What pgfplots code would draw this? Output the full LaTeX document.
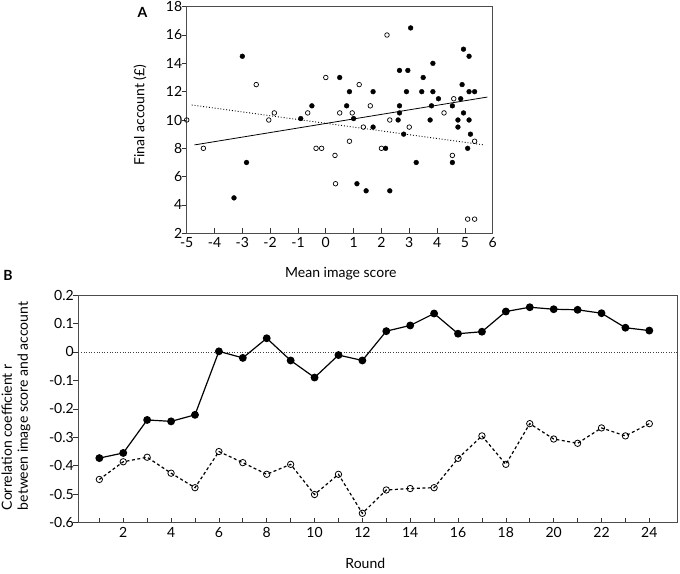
\documentclass[border=0pt]{standalone}
\usepackage{fontspec}
\setmainfont{Lato}
\usepackage{pgfplots}
\pgfplotsset{compat=1.18}
\pgfplotstableread{
x y
-3.0 14.5
-2.85 7.0
-3.3 4.5
-0.9 10.1
-0.5 11
0.5 13
0.85 12
0.75 11
1.0 10.1
1.7 12
1.7 9.5
1.12 5.5
1.45 5.0
2.15 8.0
3.05 16.5
2.3 5.0
2.65 13.5
2.95 13.5
2.9 12.0
2.65 11.0
2.65 10.5
2.6 10.0
2.8 9.0
3.25 7.0
3.5 13.0
3.45 12.0
3.85 14.0
3.85 12.0
4.05 11.5
3.8 11.0
3.75 10.0
4.85 11.5
4.55 11.0
4.9 12.5
4.95 15.0
5.15 14.5
5.15 12.0
5.35 12.0
4.95 10.5
4.75 10.0
4.75 9.5
5.15 10.0
5.2 9.0
5.1 8.0
4.55 7.0
}\filledA
\pgfplotstableread{
x y
-5.0 10.0
-4.4 8.0
-2.5 12.5
-2.05 10.0
-1.85 10.5
-0.65 10.5
-0.35 8.0
-0.15 8.0
0.0 13.0
0.33 7.5
0.35 5.5
0.5 10.5
0.85 8.5
0.95 10.5
1.2 12.5
1.35 9.5
1.6 11.0
2.0 8.0
2.2 16.0
2.3 10.0
3.0 9.5
4.25 10.5
4.6 11.5
5.35 8.5
4.55 7.5
5.1 3.0
5.35 3.0
}\openA
\pgfplotstableread{
r filled open
1 -0.373 -0.448
2 -0.355 -0.386
3 -0.239 -0.370
4 -0.244 -0.426
5 -0.221 -0.477
6 0.002 -0.350
7 -0.021 -0.389
8 0.048 -0.430
9 -0.030 -0.395
10 -0.090 -0.501
11 -0.011 -0.430
12 -0.030 -0.567
13 0.073 -0.485
14 0.093 -0.480
15 0.135 -0.477
16 0.064 -0.374
17 0.071 -0.295
18 0.142 -0.395
19 0.157 -0.252
20 0.150 -0.306
21 0.148 -0.321
22 0.136 -0.267
23 0.085 -0.295
24 0.075 -0.252
}\dataB
\pgfplotsset{
  mystyle/.style={
    scale only axis,
    anchor=south west,
    tick pos=left,
    tick align=inside,
    major tick length=5pt,
    axis line style={draw=black!70, line width=0.9pt},
    every tick/.style={draw=black!80, line width=0.7pt},
    ytick style={xshift=-5pt},
    yticklabel style={xshift=-1pt},
    xticklabel style={yshift=-1pt},
    /pgf/number format/assume math mode=true,
    tick label style={font=\fontsize{14}{16}\selectfont},
    clip=false,
  }
}
\begin{document}
\begin{tikzpicture}[font=\fontsize{14}{16}\selectfont]
\useasboundingbox (0pt,0pt) rectangle (680pt,573pt);
\begin{axis}[mystyle,
  at={(186.7pt,339.7pt)}, width=306pt, height=226.6pt,
  xmin=-5, xmax=6, ymin=2, ymax=18,
  xtick={-5,-4,-3,-2,-1,0,1,2,3,4,5,6},
  ytick={2,4,6,8,10,12,14,16,18},
]
\addplot[black, line width=0.8pt] coordinates {(-4.72,8.24) (5.81,11.62)};
\addplot[black, line width=0.9pt, dotted] coordinates {(-4.82,11.06) (5.69,8.24)};
\addplot[only marks, mark=*, mark size=2.4pt, mark options={fill=black, draw=black}] table[x=x,y=y] {\filledA};
\addplot[only marks, mark=o, mark size=2.3pt, mark options={draw=black, fill=white, line width=0.7pt}] table[x=x,y=y] {\openA};
\end{axis}
\node[font=\fontsize{14}{16}\selectfont\bfseries] at (142.5pt,560.5pt) {A};
\node[rotate=90] at (140pt,458pt) {Final account (£)};
\node[anchor=base] at (340.8pt,295.7pt) {Mean image score};

\begin{axis}[mystyle,
  at={(78.3pt,50.3pt)}, width=599pt, height=227.7pt,
  xmin=0.12, xmax=25.17, ymin=-0.6, ymax=0.2,
  xtick={1,2,3,4,5,6,7,8,9,10,11,12,13,14,15,16,17,18,19,20,21,22,23,24},
  xticklabels={,2,,4,,6,,8,,10,,12,,14,,16,,18,,20,,22,,24},
  ytick={-0.6,-0.5,-0.4,-0.3,-0.2,-0.1,0,0.1,0.2},
  yticklabels={-0.6,-0.5,-0.4,-0.3,-0.2,-0.1,0,0.1,0.2},
]
\addplot[black!75, line width=0.6pt, dotted] coordinates {(0.12,0) (25.17,0)};
\addplot[black, line width=1.2pt, mark=*, mark size=3.3pt, mark options={solid, fill=black}] table[x=r,y=filled] {\dataB};
\addplot[black, line width=1.2pt, dash pattern=on 3pt off 2.5pt, mark=o, mark size=3.2pt, mark options={solid, fill=white, line width=0.8pt}] table[x=r,y=open] {\dataB};
\end{axis}
\node[font=\fontsize{14}{16}\selectfont\bfseries] at (8pt,298pt) {B};
\node[rotate=90, align=left, anchor=center] at (16pt,167pt) {Correlation coefficient r\\between image score and account};
\node[anchor=base] at (365.3pt,4.7pt) {Round};
\end{tikzpicture}
\end{document}
